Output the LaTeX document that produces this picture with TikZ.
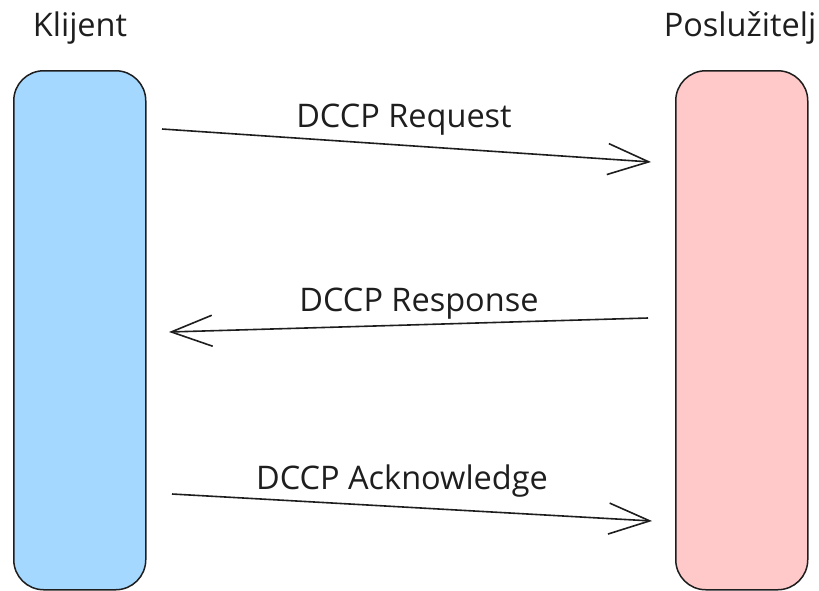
\documentclass[tikz,border=0pt]{standalone}
\usepackage{fontspec}
\setmainfont{Open Sans}
\usetikzlibrary{arrows.meta}
\definecolor{inkc}{HTML}{1E1E1E}
\definecolor{bluefill}{HTML}{A5D8FF}
\definecolor{redfill}{HTML}{FFC9C9}
\begin{document}
\begin{tikzpicture}[x=1pt,y=-1pt,
  bar/.style={draw=inkc, line width=1.5pt, rounded corners=30pt, minimum width=132pt, minimum height=519pt, inner sep=0pt, anchor=north west},
  lbl/.style={text=inkc, font=\fontsize{32.5}{38}\selectfont, anchor=base},
  msg/.style={draw=inkc, line width=1.6pt, -{Straight Barb[length=41pt,width=31pt,line width=1.6pt]}}
]
\useasboundingbox (0,0) rectangle (819,590);
\node[bar, fill=bluefill] (cl) at (13,70) {};
\node[bar, fill=redfill] (sv) at (675,70) {};
\node[lbl] (tcl) at (80,36) {Klijent};
\node[lbl] (tsv) at (740,36) {Poslužitelj};
\coordinate (r1) at (162,129);
\coordinate (r2) at (651,162);
\coordinate (p1) at (648,318);
\coordinate (p2) at (169,332);
\coordinate (a1) at (172,494);
\coordinate (a2) at (652,521);
\draw[msg] (r1) -- (r2);
\draw[msg] (p1) -- (p2);
\draw[msg] (a1) -- (a2);
\node[lbl] (lr) at (404,127) {DCCP Request};
\node[lbl] (lp) at (419,311) {DCCP Response};
\node[lbl] (la) at (402,489) {DCCP Acknowledge};
\end{tikzpicture}
\end{document}
